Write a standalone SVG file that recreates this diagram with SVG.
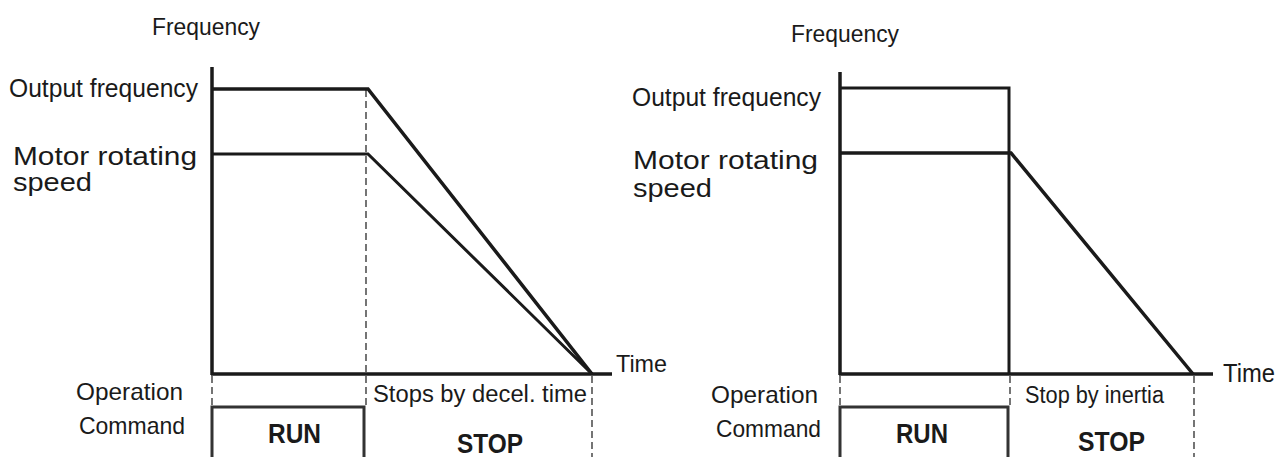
<svg xmlns="http://www.w3.org/2000/svg" width="1277" height="457" viewBox="0 0 1277 457">
<style>
text{font-family:"Liberation Sans",Arial,sans-serif;fill:#1a1a1a}
.lbl{font-size:24px}
.big{font-size:25.5px}
.sm{font-size:23px}
.b{font-size:27px;font-weight:bold}
.ax{stroke:#1a1a1a;stroke-width:3.5;fill:none}
.ln{stroke:#1a1a1a;stroke-width:3;fill:none}
.box{stroke:#333;stroke-width:3;fill:none}
.dash{stroke:#1a1a1a;stroke-width:1.2;stroke-dasharray:7 4;fill:none}
</style>
<rect width="1277" height="457" fill="#fff"/>
<g id="left-labels">
<text class="lbl" x="152" y="35" textLength="108" lengthAdjust="spacingAndGlyphs">Frequency</text>
<text class="big" x="9" y="97" textLength="189" lengthAdjust="spacingAndGlyphs">Output frequency</text>
<text class="big" x="13" y="165" textLength="184" lengthAdjust="spacingAndGlyphs">Motor rotating</text>
<text class="big" x="13" y="191" textLength="79" lengthAdjust="spacingAndGlyphs">speed</text>
<text class="lbl" x="616" y="372" textLength="51" lengthAdjust="spacingAndGlyphs">Time</text>
<text class="lbl" x="76" y="400" textLength="107" lengthAdjust="spacingAndGlyphs">Operation</text>
<text class="lbl" x="79" y="434" textLength="106" lengthAdjust="spacingAndGlyphs">Command</text>
<text class="sm" x="373" y="402" textLength="214" lengthAdjust="spacingAndGlyphs">Stops by decel. time</text>
<text class="b" x="268" y="443" textLength="53" lengthAdjust="spacingAndGlyphs">RUN</text>
<text class="b" x="457" y="453" textLength="66" lengthAdjust="spacingAndGlyphs">STOP</text>
</g>
<g id="right-labels">
<text class="lbl" x="791" y="42" textLength="108" lengthAdjust="spacingAndGlyphs">Frequency</text>
<text class="big" x="632" y="106" textLength="189" lengthAdjust="spacingAndGlyphs">Output frequency</text>
<text class="big" x="633" y="169" textLength="185" lengthAdjust="spacingAndGlyphs">Motor rotating</text>
<text class="big" x="633" y="197" textLength="79" lengthAdjust="spacingAndGlyphs">speed</text>
<text class="big" x="1223" y="382" textLength="52" lengthAdjust="spacingAndGlyphs">Time</text>
<text class="lbl" x="711" y="403" textLength="107" lengthAdjust="spacingAndGlyphs">Operation</text>
<text class="lbl" x="716" y="437" textLength="105" lengthAdjust="spacingAndGlyphs">Command</text>
<text class="sm" x="1025" y="403" textLength="139" lengthAdjust="spacingAndGlyphs">Stop by inertia</text>
<text class="b" x="896" y="443" textLength="52" lengthAdjust="spacingAndGlyphs">RUN</text>
<text class="b" x="1078" y="451" textLength="67" lengthAdjust="spacingAndGlyphs">STOP</text>
</g>
<g id="connectors">
<g id="left-chart">
<line class="ax" x1="212" y1="67" x2="212" y2="375"/>
<line class="ax" x1="211" y1="374" x2="612" y2="374"/>
<path class="ax" d="M212,89 H368 L592,374"/>
<path class="ln" d="M212,154 H368 L592,374"/>
<line class="dash" x1="366" y1="90" x2="366" y2="406"/>
<line class="dash" x1="212" y1="376" x2="212" y2="406"/>
<line class="dash" x1="592" y1="376" x2="592" y2="457"/>
<path class="box" d="M212,457 V407 H364 V457"/>
</g>
<g id="right-chart">
<line class="ax" x1="840" y1="72" x2="840" y2="375"/>
<line class="ax" x1="839" y1="374" x2="1213" y2="374"/>
<path class="ln" d="M840,88 H1009 V374"/>
<path class="ax" d="M840,153 H1011 L1193,374"/>
<line class="dash" x1="840" y1="376" x2="840" y2="406"/>
<line class="dash" x1="1010" y1="376" x2="1010" y2="406"/>
<line class="dash" x1="1194" y1="376" x2="1194" y2="457"/>
<path class="box" d="M840,457 V407 H1008 V457"/>
</g>
</g>
</svg>
